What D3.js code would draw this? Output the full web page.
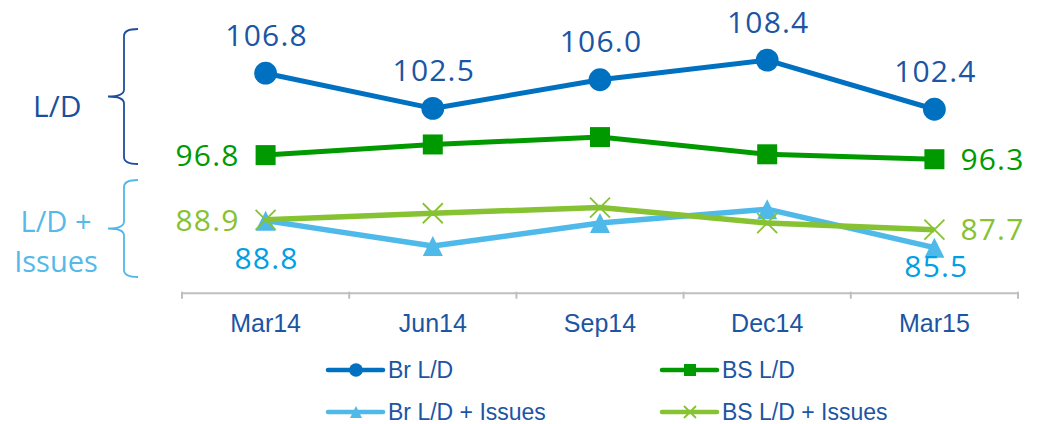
<!DOCTYPE html>
<html>
<head>
<meta charset="utf-8">
<script src="https://cdn.jsdelivr.net/npm/d3@7"></script>
<style>
  html, body { margin: 0; padding: 0; background: #fff; }
  svg { display: block; }
</style>
</head>
<body>
<svg id="chart" width="1043" height="424"></svg>
<script>
// Loan-to-deposit ratios by quarter
const categories = ["Mar14", "Jun14", "Sep14", "Dec14", "Mar15"];
const brLD       = [106.8, 102.5, 106.0, 108.4, 102.4];
const bsLD       = [96.8, 98.1, 99.0, 96.9, 96.3];
const brLDIssues = [88.8, 85.7, 88.5, 90.2, 85.5];
const bsLDIssues = [88.9, 89.7, 90.4, 88.5, 87.7];
const seriesNames = ["Br L/D", "BS L/D", "Br L/D + Issues", "BS L/D + Issues"];

const svg = d3.select("#chart");

const x = d3.scaleBand().domain(categories).range([182, 1018]).padding(0);
const y = d3.scaleLinear().domain([80, 110]).range([292.7, 47]);
const cx = c => x(c) + x.bandwidth() / 2;

const series = [
  { name: seriesNames[0], values: brLD,       line: "#0070C0", marker: "circle",   label: "#1B55A3", width: 5 },
  { name: seriesNames[1], values: bsLD,       line: "#009A00", marker: "square",   label: "#009A00", width: 5 },
  { name: seriesNames[2], values: brLDIssues, line: "#4FB9E9", marker: "triangle", label: "#00A0E3", width: 5.5 },
  { name: seriesNames[3], values: bsLDIssues, line: "#86C232", marker: "cross",    label: "#86C232", width: 5.5 }
];

// marker drawing helper
function drawMarker(g, type, color, s) {
  if (type === "circle") {
    g.append("circle").attr("r", s * 0.57).attr("fill", color);
  } else if (type === "square") {
    g.append("rect").attr("x", -s / 2).attr("y", -s / 2).attr("width", s).attr("height", s).attr("fill", color);
  } else if (type === "triangle") {
    g.append("path").attr("d", `M0,${-s / 2}L${s / 2},${s / 2}L${-s / 2},${s / 2}Z`).attr("fill", color);
  } else if (type === "cross") {
    const h = s / 2;
    g.append("path").attr("d", `M${-h},${-h}L${h},${h}M${h},${-h}L${-h},${h}`)
      .attr("stroke", color).attr("stroke-width", 1.8).attr("fill", "none");
  }
}

// x axis: line with category labels and boundary ticks
const axisG = svg.append("g").attr("transform", `translate(0,${y(80)})`);
axisG.call(d3.axisBottom(x).tickSize(0).tickSizeOuter(0));
axisG.select(".domain").attr("stroke", "#BFBFBF").attr("stroke-width", 2);
axisG.selectAll(".tick text")
  .attr("y", 39).attr("dy", 0)
  .attr("fill", "#1B55A3")
  .style("font-family", "'Liberation Sans', Arial, sans-serif")
  .style("font-size", "25px");
const bounds = categories.map(c => x(c)).concat([x.range()[1]]);
axisG.selectAll("line.bound").data(bounds).enter().append("line")
  .attr("class", "bound")
  .attr("x1", d => d).attr("x2", d => d)
  .attr("y1", -1).attr("y2", 6)
  .attr("stroke", "#BFBFBF").attr("stroke-width", 2);

// series lines and markers
const lineGen = d3.line().x((d, i) => cx(categories[i])).y(d => y(d));
series.forEach(s => {
  svg.append("path").datum(s.values)
    .attr("d", lineGen)
    .attr("fill", "none")
    .attr("stroke", s.line)
    .attr("stroke-width", s.width)
    .attr("stroke-linejoin", "round");
  s.values.forEach((v, i) => {
    const g = svg.append("g").attr("transform", `translate(${cx(categories[i])},${y(v)})`);
    drawMarker(g, s.marker, s.line, 20);
  });
});

// value labels
const valueFont = "'Open Sans', 'Noto Sans', sans-serif";
function valueLabel(sIdx, i, anchor, dx, dy) {
  const s = series[sIdx];
  const v = s.values[i];
  svg.append("text")
    .attr("x", cx(categories[i]) + dx)
    .attr("y", y(v) + dy)
    .attr("text-anchor", anchor)
    .attr("fill", s.label)
    .style("font-family", valueFont)
    .style("font-size", "30px")
    .style("letter-spacing", "1.2px")
    .text(v.toFixed(1));
}
brLD.forEach((v, i) => valueLabel(0, i, "middle", 1, -27.5));
valueLabel(1, 0, "end", -26, 11);
valueLabel(1, 4, "start", 26, 10.5);
valueLabel(2, 0, "middle", 1, 48.5);
valueLabel(2, 4, "middle", 2, 29.5);
valueLabel(3, 0, "end", -26, 11);
valueLabel(3, 4, "start", 26, 10.5);

// group braces with their captions
function brace(top, bottom, color) {
  const xv = 124, xr = 138, xt = 108, r = 7;
  const mid = (top + bottom) / 2;
  const d = `M${xr},${top} Q${xv},${top} ${xv},${top + r} L${xv},${mid - r} Q${xv},${mid} ${xt},${mid}` +
            ` Q${xv},${mid} ${xv},${mid + r} L${xv},${bottom - r} Q${xv},${bottom} ${xr},${bottom}`;
  svg.append("path").attr("d", d).attr("fill", "none").attr("stroke", color).attr("stroke-width", 1.8);
}
brace(29, 164, "#1F4E9C");
brace(180, 277, "#4FB9E9");

svg.append("text").attr("x", 33).attr("y", 117)
  .attr("fill", "#1B4F9E")
  .style("font-family", valueFont).style("font-size", "30px")
  .text("L/D");
svg.append("text").attr("x", 56).attr("y", 232).attr("text-anchor", "middle")
  .attr("fill", "#55B9E9")
  .style("font-family", valueFont).style("font-size", "29px")
  .text("L/D +");
svg.append("text").attr("x", 56).attr("y", 272).attr("text-anchor", "middle")
  .attr("fill", "#55B9E9")
  .style("font-family", valueFont).style("font-size", "29px")
  .text("Issues");

// legend
const legendPos = [[328, 370], [662, 370], [328, 412], [662, 412]];
series.forEach((s, k) => {
  const [lx, ly] = legendPos[k];
  const g = svg.append("g").attr("transform", `translate(${lx},${ly})`);
  g.append("line").attr("x1", 0).attr("x2", 55).attr("y1", 0).attr("y2", 0)
    .attr("stroke", s.line).attr("stroke-width", 4.5).attr("stroke-linecap", "round");
  const m = g.append("g").attr("transform", "translate(28,0)");
  drawMarker(m, s.marker, s.line, 12);
  g.append("text").attr("x", 60).attr("y", 8)
    .attr("fill", "#1B55A3")
    .style("font-family", "'Liberation Sans', Arial, sans-serif")
    .style("font-size", "23px")
    .text(s.name);
});
</script>
</body>
</html>
